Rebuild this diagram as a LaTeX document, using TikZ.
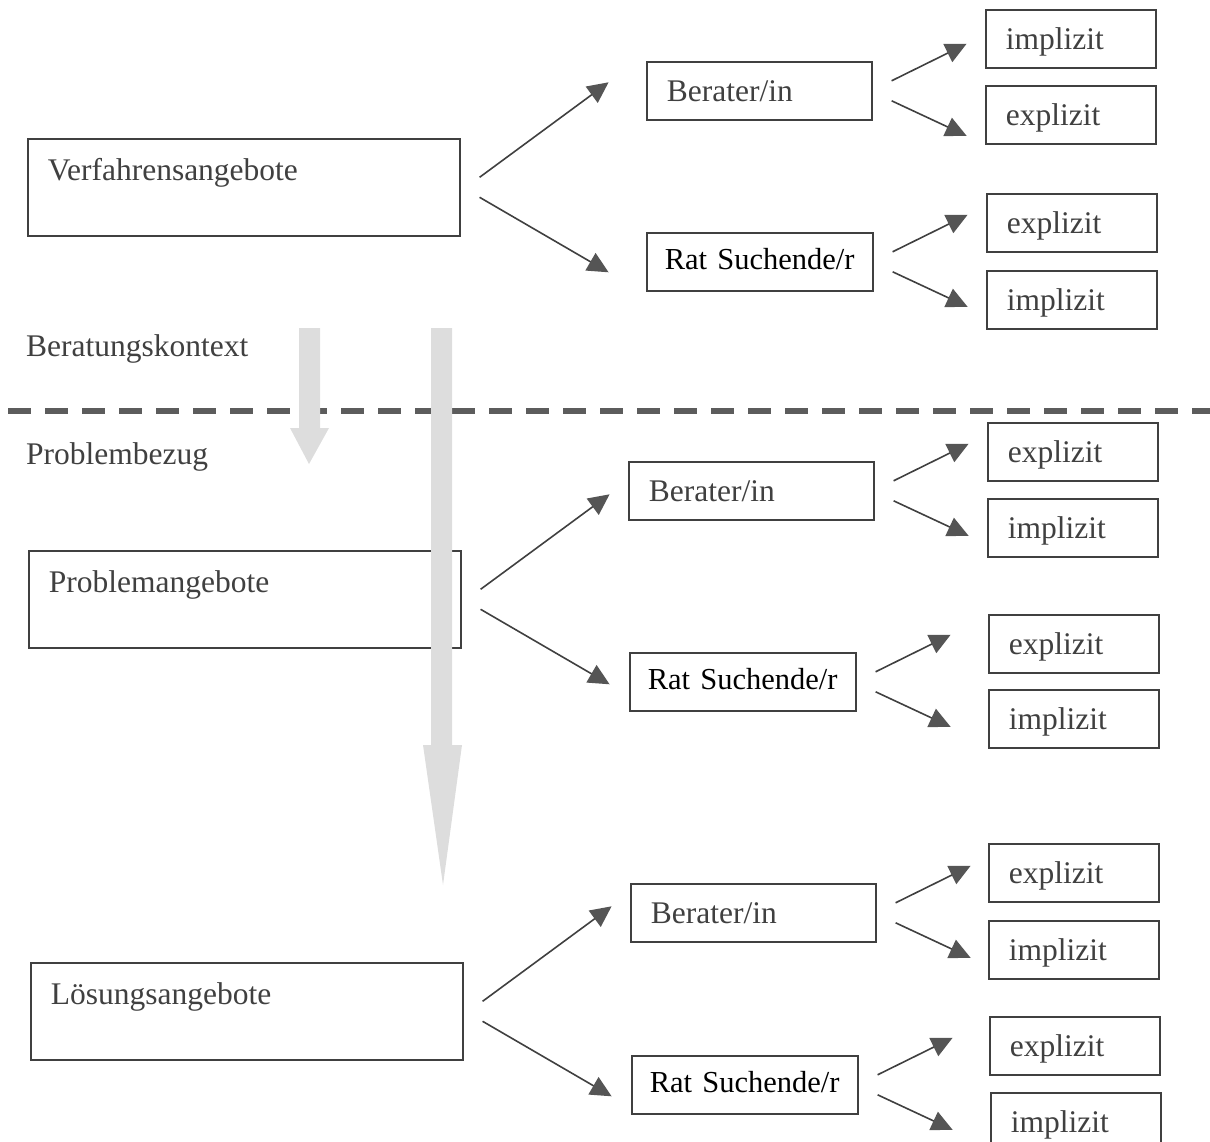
\documentclass[tikz,border=0pt]{standalone}
\usepackage{fontspec}
\setmainfont{Liberation Serif}
\usetikzlibrary{arrows.meta,calc}
\definecolor{scan}{HTML}{404040}
\definecolor{tipgray}{HTML}{555555}
\definecolor{dashgray}{HTML}{5C5C5C}
\definecolor{flowgray}{HTML}{DDDDDD}
\newcommand\scanfont{\fontsize{31.5}{37}\selectfont}
\newcommand\ratfont{\fontsize{30.5}{36}\selectfont}
\begin{document}
\begin{tikzpicture}[x=1pt,y=-1pt,
  box/.style={draw=scan,line width=1.6pt,rectangle,anchor=north west,
    inner xsep=20pt,inner ysep=0pt,align=left,text=scan,font=\scanfont,
    text width=#1,text height=40pt,text depth=18pt},
  box/.default=130pt,
  big/.style={box=392pt,text height=42pt,text depth=55pt},
  rat/.style={box=190pt,inner xsep=18pt,text=black,font=\ratfont,
    text height=37pt,text depth=21pt},
  label/.style={anchor=base west,inner sep=0pt,text=scan,font=\scanfont},
  fan/.style={draw=scan,line width=1.6pt,
    -{Triangle[length=21pt,width=20pt,fill=tipgray,color=tipgray]}},
  sep/.style={draw=dashgray,line width=6pt,dash pattern=on 23pt off 14pt,dash phase=29pt},
  flow/.style={fill=flowgray,draw=none}]
\useasboundingbox (0,0) rectangle (1210,1142);

% left column
\node[big] (vf) at (27,138) {Verfahrensangebote};
\node[big] (pa) at (28,550) {Problemangebote};
\node[big] (la) at (30,962) {Lösungsangebote};

\node[label] (ctx) at (26,356) {Beratungskontext};
\node[label] (bez) at (26,464) {Problembezug};

% second column
\node[box=185pt] (ber1) at (646,61) {Berater/in};
\node[rat] (rat1) at (646,232) {\mbox{Rat Suchende/r}};
\node[box=205pt] (ber2) at (628,461) {Berater/in};
\node[rat] (rat2) at (629,652) {\mbox{Rat Suchende/r}};
\node[box=205pt] (ber3) at (630,883) {Berater/in};
\node[rat] (rat3) at (631,1055) {\mbox{Rat Suchende/r}};

% third column
\node[box] (ber1a) at (985,9) {implizit};
\node[box] (ber1b) at (985,85) {explizit};
\node[box] (rat1a) at (986,193) {explizit};
\node[box] (rat1b) at (986,270) {implizit};
\node[box] (ber2a) at (987,422) {explizit};
\node[box] (ber2b) at (987,498) {implizit};
\node[box] (rat2a) at (988,614) {explizit};
\node[box] (rat2b) at (988,689) {implizit};
\node[box] (ber3a) at (988,843) {explizit};
\node[box] (ber3b) at (988,920) {implizit};
\node[box] (rat3a) at (989,1016) {explizit};
\node[box] (rat3b) at (990,1092) {implizit};

% arrows
\foreach \p in {vf,pa,la}{
  \draw[fan] ($(\p.east)+(19,-10)$) -- ($(\p.east)+(148,-105)$);
  \draw[fan] ($(\p.east)+(19,10)$) -- ($(\p.east)+(148,85)$);
}
\foreach \p in {ber1,rat1,ber2,rat2,ber3,rat3}{
  \draw[fan] ($(\p.east)+(19,-10)$) -- ($(\p.east)+(94,-47)$);
  \draw[fan] ($(\p.east)+(19,10)$) -- ($(\p.east)+(94,45)$);
}

% separator
\draw[sep] (0,411) -- (1210,411);

% big grey arrows
\fill[flow] (299,328) -- (320,328) -- (320,428) -- (329,428) -- (309,464)
  -- (290,428) -- (299,428) -- cycle;
\fill[flow] (431,328) -- (452,328) -- (452,745) -- (462,745) -- (443,885)
  -- (423,745) -- (431,745) -- cycle;
\end{tikzpicture}
\end{document}
